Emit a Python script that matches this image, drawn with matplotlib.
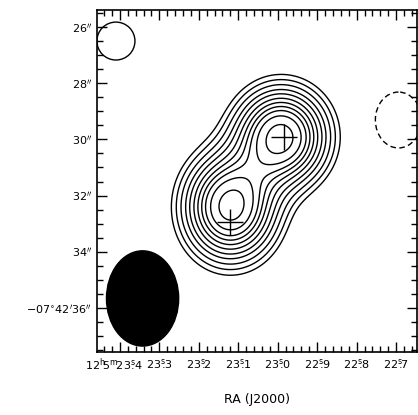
import numpy as np
import matplotlib
matplotlib.use("Agg")
import matplotlib.pyplot as plt
import matplotlib.transforms as mtransforms
from matplotlib.patches import Ellipse
from matplotlib.ticker import MultipleLocator, FixedLocator

# RA in seconds of 12h05m, Dec in arcsec of -07d42m
ra_lim = (23.458, 22.647)
dec_lim = (37.566, 25.395)
dec0 = -7.71
ra_to_arcsec = 15.0 * np.cos(np.radians(dec0))

# gaussian components of the source
src_ra = [22.991, 23.120]
src_dec = [29.91, 32.41]
src_amp = [1.0, 1.0]
src_sx = [1.10, 1.10]
src_sy = [1.10, 1.20]

levels = [0.13, 0.18, 0.24, 0.31, 0.38, 0.46, 0.54, 0.62, 0.70, 0.80, 0.935]

# reference positions
cross_ra = [22.9846, 23.1204]
cross_dec = [29.91, 32.94]

ra_ticks = [23.4, 23.3, 23.2, 23.1, 23.0, 22.9, 22.8, 22.7]
ra_labels = [r"12$^{\rm h}\!$5$^{\rm m}\!$23$^{\rm s}\!\!$.4", r"23$^{\rm s}\!\!$.3",
             r"23$^{\rm s}\!\!$.2", r"23$^{\rm s}\!\!$.1", r"23$^{\rm s}\!\!$.0",
             r"22$^{\rm s}\!\!$.9", r"22$^{\rm s}\!\!$.8", r"22$^{\rm s}\!\!$.7"]
dec_ticks = [26, 28, 30, 32, 34, 36]
dec_labels = [r"26$^{\prime\prime}$", r"28$^{\prime\prime}$", r"30$^{\prime\prime}$",
              r"32$^{\prime\prime}$", r"34$^{\prime\prime}$",
              r"$-$07$^{\circ}$42$^{\prime}$36$^{\prime\prime}$"]

ra = np.linspace(ra_lim[1], ra_lim[0], 400)
dec = np.linspace(dec_lim[1], dec_lim[0], 400)
RA, DEC = np.meshgrid(ra, dec)
field = np.zeros_like(RA)
for r0, d0, a, sx, sy in zip(src_ra, src_dec, src_amp, src_sx, src_sy):
    dx = (RA - r0) * ra_to_arcsec
    dy = DEC - d0
    field += a * np.exp(-0.5 * ((dx / sx) ** 2 + (dy / sy) ** 2))

fig = plt.figure(figsize=(4.18, 4.15), dpi=100)
ax = fig.add_axes([97 / 418, 63 / 415, 320 / 418, 342 / 415])

ax.contour(RA, DEC, field, levels=levels, colors="black", linewidths=1.0)

# beam and noise features
ax.add_patch(Ellipse((23.3425, 35.66), 0.183, 3.39, facecolor="black", edgecolor="black"))
ax.add_patch(Ellipse((23.41, 26.5), 0.0964, 1.35, facecolor="none", edgecolor="black", lw=1.0))
ax.add_patch(Ellipse((22.694, 29.31), 0.117, 1.99, facecolor="none", edgecolor="black",
                     lw=1.0, linestyle=(0, (4, 2.5))))

ax.plot(cross_ra, cross_dec, linestyle="none", marker="+", markersize=19,
        markeredgewidth=1.0, color="black")

ax.set_xlim(*ra_lim)
ax.set_ylim(*dec_lim)

ax.xaxis.set_major_locator(FixedLocator(ra_ticks))
ax.set_xticklabels(ra_labels)
ax.xaxis.set_minor_locator(MultipleLocator(0.02))
ax.yaxis.set_major_locator(FixedLocator(dec_ticks))
ax.set_yticklabels(dec_labels)
ax.yaxis.set_minor_locator(MultipleLocator(0.5))

ax.tick_params(which="both", direction="in", top=True, right=True, labelsize=8)
ax.tick_params(which="major", length=7, width=1.0)
ax.tick_params(which="minor", length=4, width=1.0)
for s in ax.spines.values():
    s.set_linewidth(1.2)

# the long first RA label sits a little to the left
first = ax.get_xticklabels()[0]
first.set_transform(first.get_transform() +
                    mtransforms.ScaledTranslation(-6 / 100, 0, fig.dpi_scale_trans))

ax.set_xlabel("RA (J2000)", fontsize=9, labelpad=14)

fig.savefig("out.png", dpi=100)
